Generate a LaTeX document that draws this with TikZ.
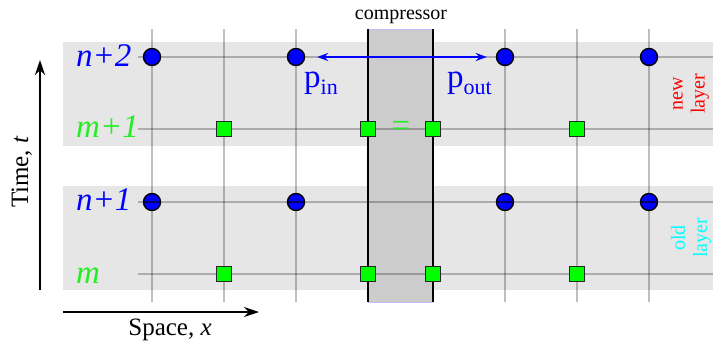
\documentclass[tikz,border=0pt]{standalone}
\usepackage{fontspec}
\setmainfont{Liberation Serif}
\usetikzlibrary{arrows.meta}
\definecolor{band}{HTML}{E6E6E6}
\definecolor{comp}{HTML}{CCCCCC}
\definecolor{ptblue}{HTML}{0000FF}
\definecolor{ptgreen}{HTML}{00FF00}
\definecolor{lblgreen}{HTML}{22EE22}
\definecolor{lblcyan}{HTML}{00FFFF}
\tikzset{
  gridline/.style={draw=black, draw opacity=0.25, line width=1.5pt},
  throughline/.style={draw=black, draw opacity=0.45, line width=1.3pt},
  dot/.style={circle, draw=black, fill=ptblue, line width=1.4pt, minimum size=17pt, inner sep=0pt},
  sq/.style={rectangle, draw=black!85, fill=ptgreen, line width=1.3pt, minimum size=15.5pt, inner sep=0pt},
  rowlbl/.style={anchor=base west, inner sep=0pt, font=\fontsize{33}{33}\selectfont\itshape},
  axis/.style={draw=black, line width=1.4pt, -{Stealth[length=15pt,width=10pt,inset=5pt]}},
  parrow/.style={draw=ptblue, line width=2.4pt, {Stealth[length=11pt,width=8pt]}-{Stealth[length=11pt,width=8pt]}},
  layerlbl/.style={rotate=90, align=center, inner sep=0pt, font=\fontsize{20}{22}\selectfont},
}
\begin{document}
\begin{tikzpicture}[x=1pt,y=-1pt]
\useasboundingbox (0,0) rectangle (720,346);
% bands
\fill[band] (63,42) rectangle (713,146);
\fill[band] (63,186) rectangle (713,290);
% compressor
\fill[comp] (368,29) rectangle (433,302);
\draw[blue!25, line width=0.6pt] (368,29) -- (433,29) (368,302) -- (433,302);
% grid lines
\foreach \x in {152,224,296,505,577,649} \draw[gridline] (\x,29) -- (\x,302);
\foreach \y in {57,129,274} \draw[gridline] (138,\y) -- (713,\y);
\draw[black, line width=1.3pt] (368,29) -- (368,302) (433,29) -- (433,302);
% circles
\node[dot] (a1) at (152,57) {};
\node[dot] (a2) at (296,57) {};
\node[dot] (a3) at (505,57) {};
\node[dot] (a4) at (649,57) {};
\node[dot] (b1) at (152,202) {};
\node[dot] (b2) at (296,202) {};
\node[dot] (b3) at (505,202) {};
\node[dot] (b4) at (649,202) {};
\draw[gridline] (138,202) -- (713,202);
\draw[throughline] (b1.west) -- (b1.east) (b2.west) -- (b2.east) (b3.west) -- (b3.east) (b4.west) -- (b4.east);
% squares
\node[sq] (s1) at (224,129) {};
\node[sq] (s2) at (368,129) {};
\node[sq] (s3) at (433,129) {};
\node[sq] (s4) at (577,129) {};
\node[sq] (t1) at (224,274) {};
\node[sq] (t2) at (368,274) {};
\node[sq] (t3) at (433,274) {};
\node[sq] (t4) at (577,274) {};
% row labels
\node[rowlbl, text=ptblue] (ln2) at (76,66) {n+2};
\node[rowlbl, text=lblgreen] (lm1) at (76,137) {m+1};
\node[rowlbl, text=ptblue] (ln1) at (76,210) {n+1};
\node[rowlbl, text=lblgreen] (lm) at (76,283) {m};
% equal sign
\node[text=lblgreen, inner sep=0pt, font=\fontsize{33}{33}\selectfont] (eq) at (401,129) {=};
% p arrow
\draw[parrow, shorten <=12pt, shorten >=9pt] (a2) -- (a3);
\node[anchor=base west, inner sep=0pt, text=ptblue, font=\fontsize{33}{33}\selectfont] (pin) at (304,87) {p\raisebox{-7pt}{\fontsize{22}{22}\selectfont in}};
\node[anchor=base west, inner sep=0pt, text=ptblue, font=\fontsize{33}{33}\selectfont] (pout) at (447,87) {p\raisebox{-7pt}{\fontsize{22}{22}\selectfont out}};
% compressor label
\node[anchor=base, inner sep=0pt, font=\fontsize{20}{20}\selectfont] (clbl) at (401,19) {compressor};
% layer labels
\node[layerlbl, text=red] (newl) at (691,94) {new\\layer};
\node[layerlbl, text=lblcyan] (oldl) at (691,238) {old\\layer};
% axes
\coordinate (t0) at (40,290);
\coordinate (t1c) at (40,60);
\coordinate (x0) at (63,312);
\coordinate (x1c) at (259,312);
\draw[axis] (t0) -- (t1c);
\draw[axis] (x0) -- (x1c);
\node[rotate=90, anchor=base, inner sep=0pt, font=\fontsize{25}{25}\selectfont] (tl) at (28,172) {Time, \textit{t}};
\node[anchor=base, inner sep=0pt, font=\fontsize{25}{25}\selectfont] (xl) at (170,335) {Space, \textit{x}};
\end{tikzpicture}
\end{document}
